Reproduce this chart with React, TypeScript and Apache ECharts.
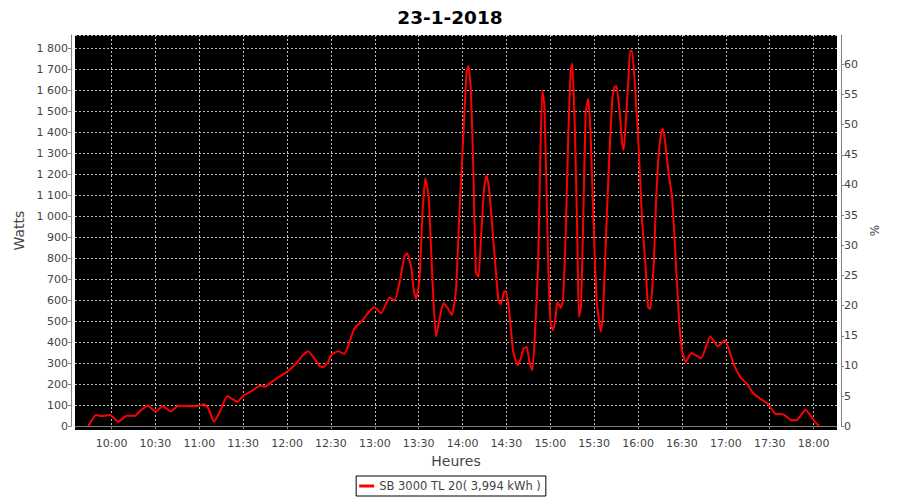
import React, { useEffect, useRef } from 'react';
import * as echarts from 'echarts';

const chartTitle = '23-1-2018';
const seriesName = 'SB 3000 TL 20( 3,994 kWh )';
const xAxisName = 'Heures';
const leftAxisName = 'Watts';
const rightAxisName = '%';

// tick positions on the time axis, minutes since midnight (10:00 .. 18:00)
const timeTicks = [600, 630, 660, 690, 720, 750, 780, 810, 840, 870, 900, 930, 960, 990, 1020, 1050, 1080];

// sample times (minutes since midnight) and power (W)
const timesMin = [
  584, 589.4, 593.3, 599, 604.6, 610.4, 616.1, 619.5, 624.7, 630.2, 635, 640.5, 645.6, 658.2, 663.2, 666.2, 670,
  674.1, 679.1, 686, 690.1, 695.8, 701.5, 704.9, 710.6, 714.7,
  720, 726.4, 730.9, 734.3, 737.7, 742.3, 744.5, 748, 750.2, 754.8, 759.3, 762.7, 766.1, 771.8, 776.4, 779.8,
  784.3, 790, 793.4, 796.8, 800.2, 802, 804.8, 806.6, 808.2, 810.5, 812.7, 814.5, 816.8, 819.5, 821.8, 824.1,
  826.8, 829.8, 832.7, 835.5, 837.7, 840,
  842.7, 844.1, 845.7, 847.3, 849.1, 850.9, 852.5, 854.8, 856.4, 858.2, 860.5, 862.7, 864.5, 866.1, 868.4, 869.5,
  871.8, 874.5, 877.5, 879.8, 881.6, 883.9, 885.9, 887.7, 889.5, 891.6, 893, 894.5, 895.9, 897.3, 898.6, 900.2,
  902, 903.6, 904.8, 907, 908.6, 910.5, 912.3, 913.9, 915, 916.8, 918.4, 919.5, 920.9, 922.3, 924.1, 925.9,
  927.5, 929.8, 931.6, 933.2, 934.5, 935.9, 937.7, 940, 942.3, 943.9, 945.2, 947.5, 949.1, 950.2, 951.8, 953.6,
  954.5, 955.9, 958.2, 960.5, 962.7, 965, 966.8, 968.4,
  970.9, 972.3, 974.1, 975.9, 977, 978.6, 980.9, 983.2, 985, 986.6, 988.2, 990, 992.5, 996.4, 1003.2, 1009.3,
  1014.5, 1019.5, 1025.2, 1029.8, 1034.3, 1038.9, 1043.4, 1048.6, 1053.6, 1059.3, 1065, 1068.4, 1074.5, 1080.9, 1084,
];
const watts = [
  0, 54, 49, 54, 22, 50, 50, 73, 98, 70, 97, 70, 98, 96, 105, 85, 22,
  70, 144, 117, 146, 168, 193, 189, 217, 236,
  260, 300, 340, 357, 332, 287, 281, 305, 340, 357, 345, 403, 467, 506, 549, 567,
  538, 613, 598, 681, 808, 824, 760, 649, 606, 697, 1030, 1181, 1094, 681, 427, 506,
  586, 562, 530, 649, 998, 1316,
  1687, 1715, 1600, 1235, 735, 711, 886, 1140, 1195, 1124, 933, 743, 600, 581, 640, 644,
  552, 362, 291, 322, 370, 378, 298, 267, 441, 759, 1235, 1600, 1529, 1156, 759, 489,
  457, 521, 592, 565, 600, 917, 1394, 1695, 1727, 1410, 917, 521, 568, 917, 1490, 1560,
  1394, 917, 600, 505, 451, 521, 838, 1235, 1552, 1616, 1620, 1489, 1346, 1314, 1473, 1679,
  1787, 1787, 1584, 1314, 981, 775, 568, 559,
  800, 1076, 1298, 1402, 1417, 1346, 1203, 1092, 886, 679, 489, 362, 306, 349, 325, 429,
  381, 410, 298, 235, 203, 156, 132, 108, 60, 57, 29, 29, 79, 21, 0,
];

const FONT = 'DejaVu Sans';
const TXT = '#444444';
const AXIS = '#808080';
const GRIDLINE = '#c0c0c0';

const fmtTime = (v: number) => {
  const h = Math.floor(v / 60);
  const m = Math.round(v - h * 60);
  return `${h}:${m < 10 ? '0' : ''}${m}`;
};
const fmtWatts = (v: number) => {
  if (v >= 1000) {
    const r = v % 1000;
    return `${Math.floor(v / 1000)} ${String(r).padStart(3, '0')}`;
  }
  return String(v);
};

export default function App() {
  const ref = useRef<HTMLDivElement>(null);
  useEffect(() => {
    if (!ref.current) return;
    const chart = echarts.init(ref.current, undefined, { renderer: 'svg' });
    const data = timesMin.map((t, i) => [t, watts[i]]);
    chart.setOption({
      animation: false,
      backgroundColor: '#ffffff',
      title: {
        text: chartTitle,
        left: 'center',
        top: 3,
        textStyle: { fontFamily: FONT, fontSize: 18.5, fontWeight: 'bold', color: '#000' },
      },
      graphic: [
        {
          type: 'rect',
          z: -10,
          silent: true,
          shape: { x: 75, y: 35, width: 762, height: 395 },
          style: { fill: '#000000' },
        },
      ],
      legend: {
        top: 476,
        left: 'center',
        borderColor: '#000',
        borderWidth: 1,
        padding: [4, 5, 4, 3],
        itemWidth: 15,
        itemHeight: 3,
        itemGap: 4,
        textStyle: { fontFamily: FONT, fontSize: 11.5, color: TXT },
        data: [{ name: seriesName, icon: 'rect' }],
      },
      grid: { left: 75, right: 63, top: 35, bottom: 73.7 },
      xAxis: {
        type: 'value',
        min: 575,
        max: 1096,
        offset: 6,
        name: xAxisName,
        nameLocation: 'middle',
        nameGap: 19,
        nameTextStyle: { fontFamily: FONT, fontSize: 14, color: TXT },
        axisLine: { show: true, lineStyle: { color: AXIS, width: 1 } },
        axisTick: { show: true, length: 3, customValues: timeTicks, lineStyle: { color: AXIS } },
        axisLabel: {
          customValues: timeTicks,
          formatter: fmtTime,
          fontFamily: FONT,
          fontSize: 11,
          color: TXT,
          margin: 6,
        },
        splitLine: { show: true, lineStyle: { color: GRIDLINE, type: [2, 2], width: 1 } },
      },
      yAxis: [
        {
          type: 'value',
          min: 0,
          max: 1863,
          interval: 100,
          offset: 4,
          position: 'left',
          name: leftAxisName,
          nameLocation: 'middle',
          nameRotate: 90,
          nameGap: 40,
          nameTextStyle: { fontFamily: FONT, fontSize: 14, color: TXT },
          axisLine: { show: true, lineStyle: { color: AXIS, width: 1 } },
          axisTick: { show: true, length: 3, lineStyle: { color: AXIS } },
          axisLabel: { formatter: fmtWatts, fontFamily: FONT, fontSize: 11, color: TXT, margin: 3, showMaxLabel: false },
          splitLine: { show: true, lineStyle: { color: GRIDLINE, type: [2, 2], width: 1 } },
        },
        {
          type: 'value',
          min: 0,
          max: 64.85,
          interval: 5,
          offset: 4,
          position: 'right',
          name: rightAxisName,
          nameLocation: 'middle',
          nameRotate: 90,
          nameGap: 22,
          nameTextStyle: { fontFamily: FONT, fontSize: 12, color: TXT },
          axisLine: { show: true, lineStyle: { color: AXIS, width: 1 } },
          axisTick: { show: true, length: 3, lineStyle: { color: AXIS } },
          axisLabel: { fontFamily: FONT, fontSize: 11, color: TXT, margin: 3, showMaxLabel: false },
          splitLine: { show: false },
        },
      ],
      series: [
        {
          name: seriesName,
          type: 'line',
          yAxisIndex: 0,
          data,
          showSymbol: false,
          symbol: 'none',
          smooth: 0.15,
          color: '#ff0000',
          lineStyle: { color: '#ff0000', width: 2 },
          z: 5,
        },
      ],
    });
    return () => chart.dispose();
  }, []);
  return (
    <div
      ref={ref}
      style={{ position: 'fixed', left: 0, top: 0, width: 900, height: 500 }}
    />
  );
}
